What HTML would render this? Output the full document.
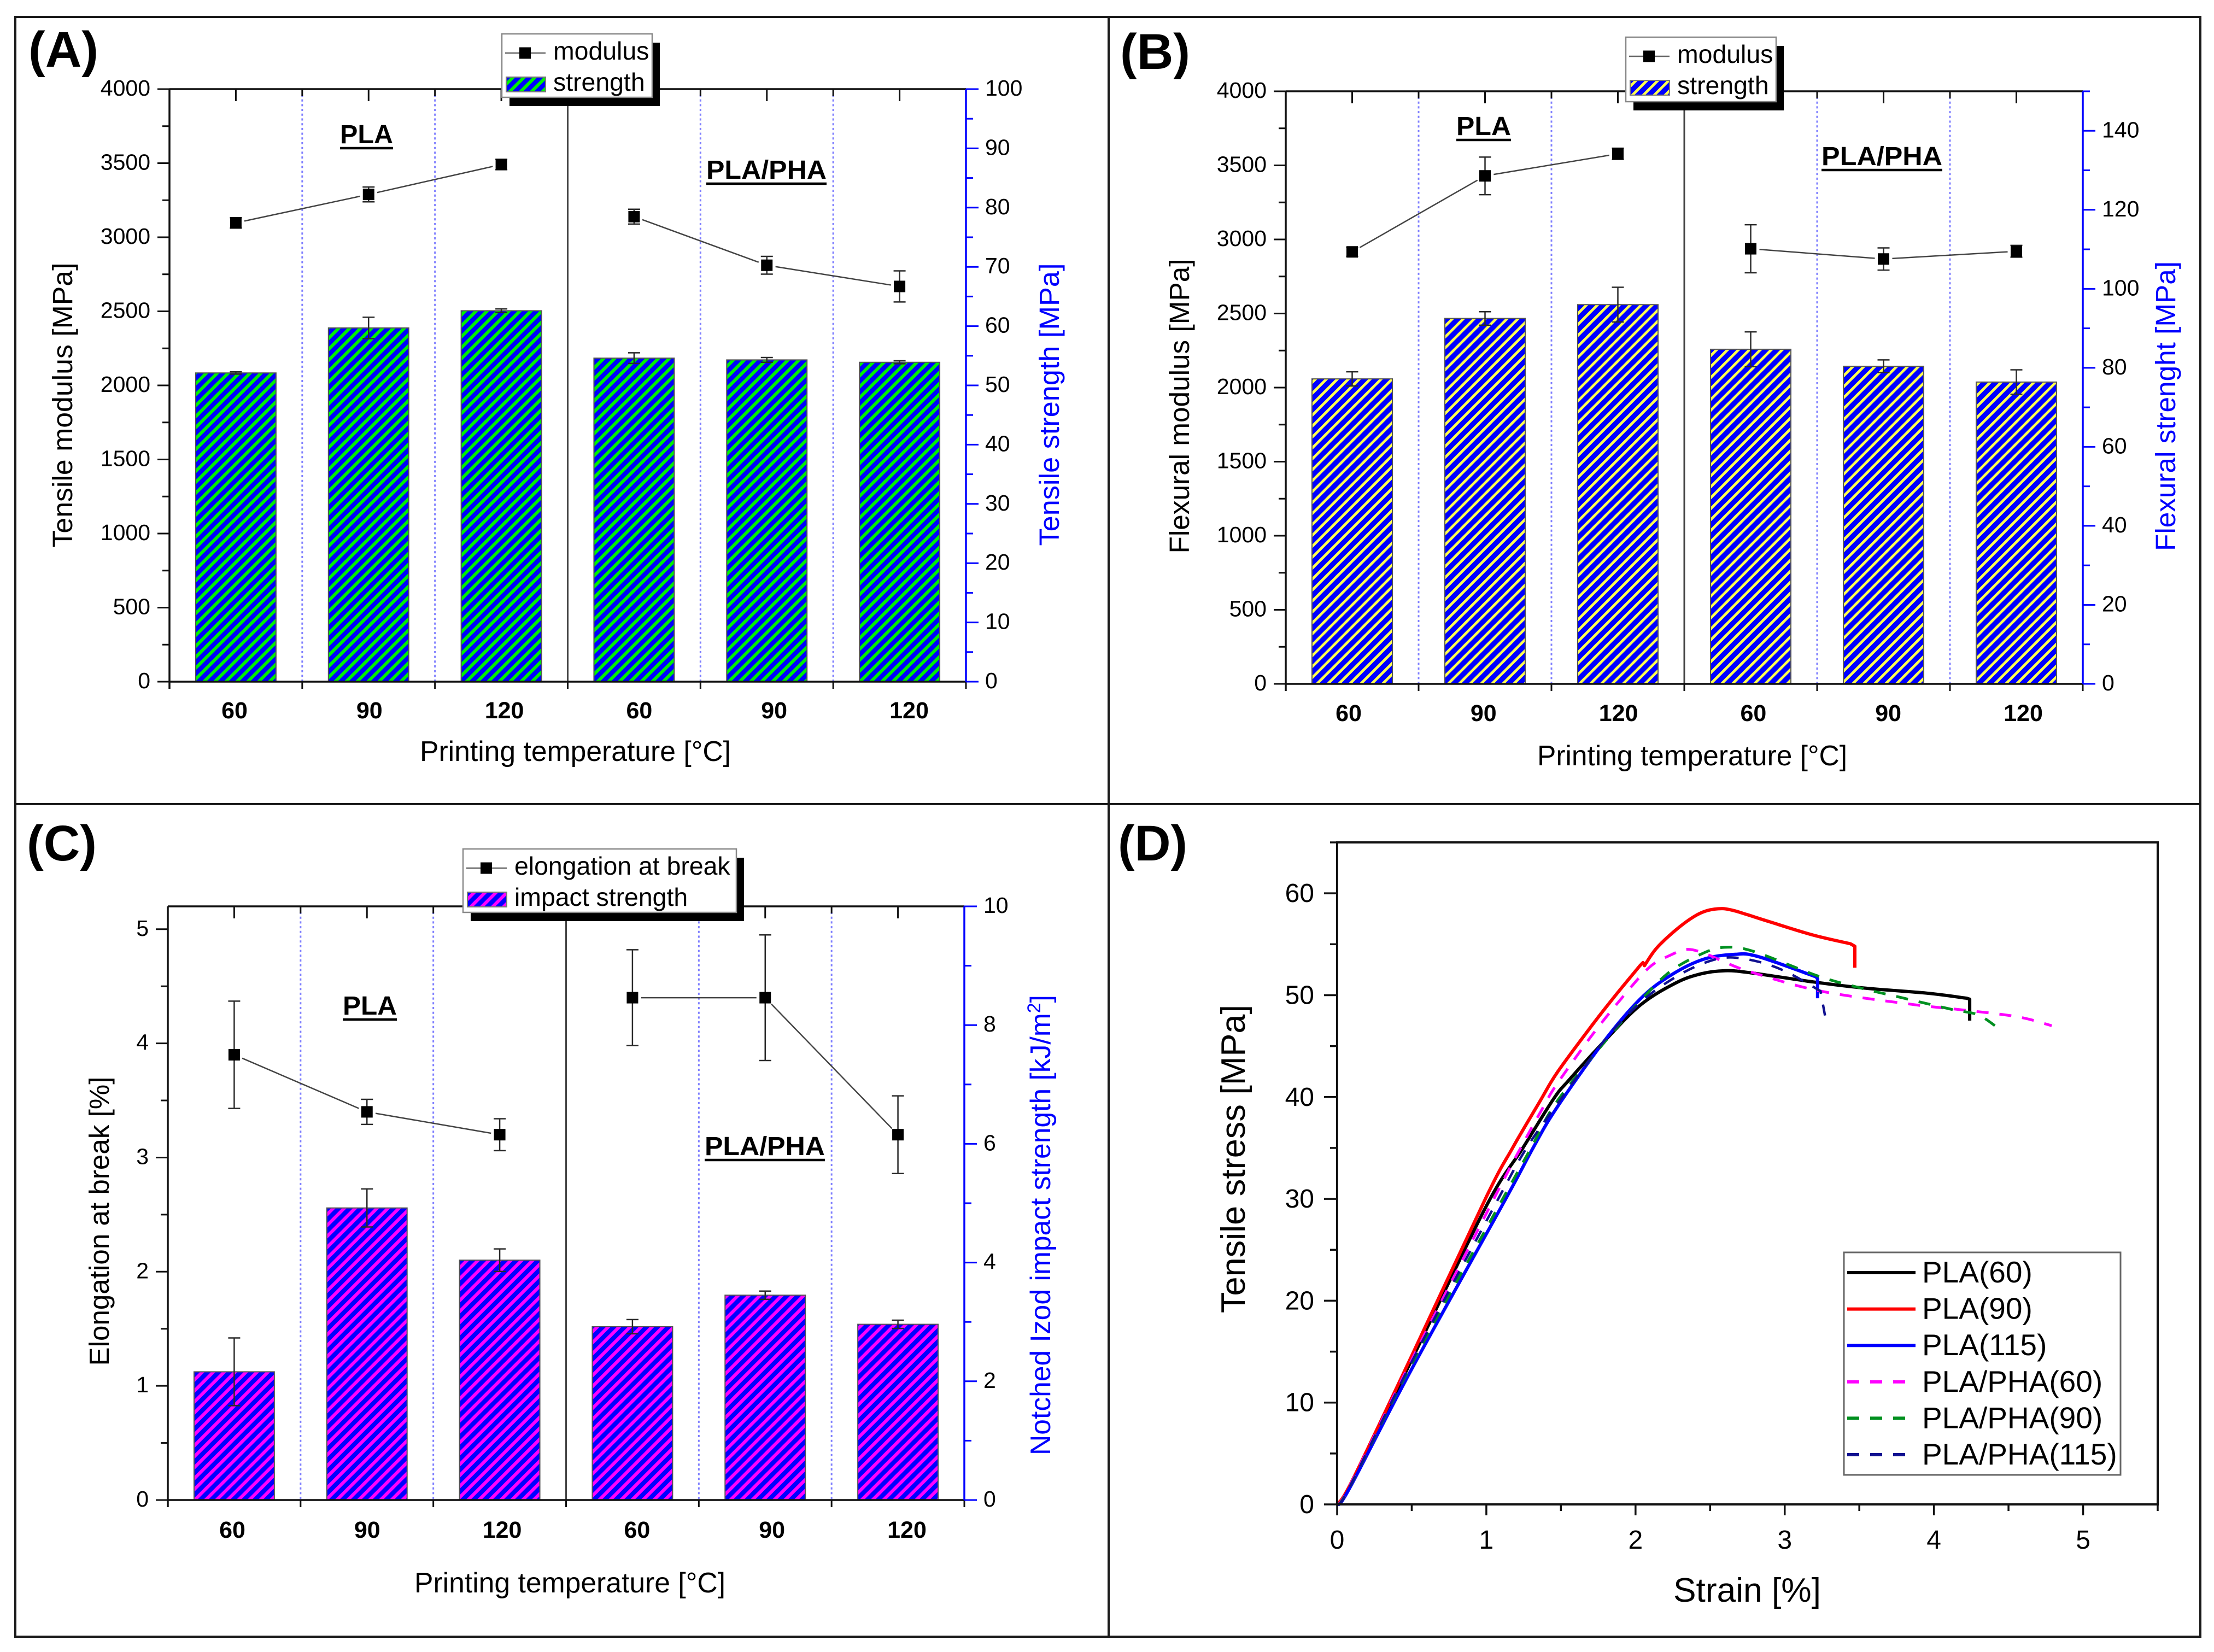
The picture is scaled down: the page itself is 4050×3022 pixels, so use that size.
<!DOCTYPE html>
<html lang="en">
<head>
<meta charset="utf-8">
<title>Mechanical properties of PLA and PLA/PHA</title>
<style>
html,body{margin:0;padding:0;background:#fff;}
svg{display:block;font-family:"Liberation Sans",sans-serif;}
</style>
</head>
<body>
<svg id="figure" xmlns="http://www.w3.org/2000/svg" width="4050" height="3022" viewBox="0 0 4050 3022">
  <defs>
    <pattern id="hatch-green" patternUnits="userSpaceOnUse" width="20" height="20">
      <rect width="20" height="20" fill="#0000ff"/>
      <path d="M-5,5 L5,-5 M0,20 L20,0 M15,25 L25,15" stroke="#00f000" stroke-width="5.9"/>
    </pattern>
    <pattern id="hatch-yellow" patternUnits="userSpaceOnUse" width="20" height="20">
      <rect width="20" height="20" fill="#0000ff"/>
      <path d="M-5,5 L5,-5 M0,20 L20,0 M15,25 L25,15" stroke="#ffff50" stroke-width="4.8"/>
    </pattern>
    <pattern id="hatch-magenta" patternUnits="userSpaceOnUse" width="20" height="20">
      <rect width="20" height="20" fill="#0000ff"/>
      <path d="M-5,5 L5,-5 M0,20 L20,0 M15,25 L25,15" stroke="#ff00ff" stroke-width="6"/>
    </pattern>
  </defs>
  <rect width="4050" height="3022" fill="#ffffff"/>
  <rect x="28" y="31" width="3997" height="2963" fill="none" stroke="#1a1a1a" stroke-width="4"/>
  <line x1="2028" y1="31" x2="2028" y2="2994" stroke="#1a1a1a" stroke-width="4"/>
  <line x1="28" y1="1471" x2="4025" y2="1471" stroke="#1a1a1a" stroke-width="4"/>
</svg>
<script>
// ---------- Panels A, B, C: shared categories ----------
var tempCategories = ['60', '90', '120', '60', '90', '120'];

// Panel A values
var tensileStrength = [52.1, 59.7, 62.6, 54.6, 54.3, 53.9];
var tensileStrengthErr = [0.2, 1.8, 0.3, 0.9, 0.4, 0.25];
var tensileModulus = [3097, 3289, 3491, 3139, 2811, 2668];
var tensileModulusErr = [35, 50, 35, 50, 60, 105];

// Panel B values
var flexuralStrength = [77.2, 92.5, 96.0, 84.7, 80.4, 76.4];
var flexuralStrengthErr = [1.8, 1.7, 4.4, 4.4, 1.6, 3.1];
var flexuralModulus = [2916, 3429, 3578, 2937, 2868, 2920];
var flexuralModulusErr = [30, 127, 38, 162, 75, 40];

// Panel C values
var impactStrength = [2.16, 4.92, 4.04, 2.92, 3.45, 2.96];
var impactStrengthErr = [0.57, 0.32, 0.19, 0.12, 0.07, 0.07];
var elongation = [3.9, 3.4, 3.2, 4.4, 4.4, 3.2];
var elongationErr = [0.47, 0.11, 0.14, 0.42, 0.55, 0.34];

// Tick labels
var modulusTicks = [0, 500, 1000, 1500, 2000, 2500, 3000, 3500, 4000];
var tensileStrengthTicks = [0, 10, 20, 30, 40, 50, 60, 70, 80, 90, 100];
var flexuralStrengthTicks = [0, 20, 40, 60, 80, 100, 120, 140];
var elongationTicks = [0, 1, 2, 3, 4, 5];
var impactTicks = [0, 2, 4, 6, 8, 10];

// ---------- Panel D: stress-strain curves ----------
var strainTicks = [0, 1, 2, 3, 4, 5];
var stressTicks = [0, 10, 20, 30, 40, 50, 60];

var pla60Strain = [0, 0.08, 0.5, 1.0, 1.245, 1.45, 1.55, 1.78, 2.03, 2.27, 2.44, 2.6, 2.77, 3.19, 3.53, 3.95, 4.22, 4.24, 4.24];
var pla60Stress = [0, 1.7, 14.2, 29.3, 35, 39.8, 41.6, 45.3, 49.0, 51.2, 52.1, 52.4, 52.2, 51.3, 50.7, 50.2, 49.7, 49.6, 47.5];

var pla90Strain = [0, 0.1, 0.5, 1.0, 1.176, 1.36, 1.47, 1.67, 1.85, 2.03, 2.05, 2.06, 2.14, 2.27, 2.39, 2.48, 2.58, 2.66, 2.75, 2.9, 3.19, 3.44, 3.47, 3.47];
var pla90Stress = [0, 2.3, 14.6, 30.2, 35, 39.6, 42.3, 46.3, 49.7, 52.9, 53.2, 52.9, 54.6, 56.4, 57.7, 58.3, 58.5, 58.3, 57.9, 57.2, 55.9, 55.05, 54.8, 52.7];

var pla115Strain = [0, 0.08, 0.5, 1.13, 1.315, 1.47, 1.78, 2.03, 2.23, 2.45, 2.66, 2.82, 3.21, 3.22, 3.22];
var pla115Stress = [0, 1.5, 13.3, 30, 35.05, 38.9, 45.3, 49.6, 51.9, 53.5, 54.0, 53.8, 51.8, 51.6, 49.7];

var blend60Strain = [0, 0.08, 0.5, 1.05, 1.23, 1.385, 1.47, 1.7, 1.89, 2.09, 2.23, 2.35, 2.48, 2.62, 2.79, 3.24, 3.85, 4.16, 4.46, 4.62, 4.79];
var blend60Stress = [0, 1.7, 14.2, 30, 35, 39.1, 41.2, 45.9, 49.4, 52.7, 53.9, 54.5, 54.0, 53.1, 52.2, 50.4, 49.1, 48.6, 48.1, 47.7, 47];

var blend90Strain = [0, 0.08, 0.5, 1.11, 1.30, 1.47, 1.81, 2.03, 2.23, 2.45, 2.6, 2.79, 3.22, 3.51, 3.8, 4.12, 4.29, 4.41];
var blend90Stress = [0, 1.6, 13.8, 30, 35, 39.5, 45.7, 49.4, 52.3, 54.1, 54.7, 54.3, 51.9, 50.7, 49.7, 48.6, 48.1, 47];

var blend115Strain = [0, 0.08, 0.5, 1.08, 1.27, 1.47, 1.8, 2.05, 2.26, 2.45, 2.62, 2.82, 3.01, 3.24, 3.27];
var blend115Stress = [0, 1.6, 14, 30, 35, 39.2, 45.7, 49.5, 51.7, 53.1, 53.7, 53.3, 52.3, 50.4, 48];

// ---------- Drawing ----------
var NS = 'http://www.w3.org/2000/svg';
var root = document.getElementById('figure');

function mk(parent, tag, attrs, text) {
  var el = document.createElementNS(NS, tag);
  for (var k in attrs) el.setAttribute(k, attrs[k]);
  if (text !== undefined) el.textContent = text;
  parent.appendChild(el);
  return el;
}

function drawHeadings(g, p) {
  var a = mk(g, 'text', {x: p.letter[0], y: p.letter[1], 'font-size': 92, 'font-weight': 'bold', textLength: 128, lengthAdjust: 'spacingAndGlyphs', fill: '#000'}, p.letterText);
  
  
}

function drawBarPanel(p) {
  var g = mk(root, 'g', {});
  
  
  var band = (p.R - p.L) / 6;
  var yL = function (v) { return p.B - v / p.leftMax * (p.B - p.T); };
  var yR = function (v) { return p.B - v / p.rightMax * (p.B - p.T); };
  var xC = function (i) { return p.L + (i + 0.5) * band; };

  drawHeadings(g, p);

  // separators
  for (var e = 1; e < 6; e++) {
    if (e === 3) continue;
    var dot = mk(g, 'line', {x1: p.L + e * band, x2: p.L + e * band, y1: p.T + 10, y2: p.B, stroke: '#7f7fff', 'stroke-width': 3, 'stroke-dasharray': '4 4.7'});
    
    
  }
  var mid = mk(g, 'line', {x1: p.L + 3 * band, x2: p.L + 3 * band, y1: p.T, y2: p.B, stroke: '#444', 'stroke-width': 3});
  
  

  // bars and their error bars
  p.bars.forEach(function (v, i) {
    var w = band * 0.605;
    var r = mk(g, 'rect', {x: xC(i) - w / 2, y: yR(v), width: w, height: p.B - yR(v), fill: 'url(#' + p.hatch + ')', stroke: '#555', 'stroke-width': 2});
    
    
  });
  p.bars.forEach(function (v, i) {
    drawError(g, xC(i), yR(v + p.barsErr[i]), yR(v - p.barsErr[i]), 'bar-error-' + i);
  });

  // connected points
  [[0, 1], [1, 2], [3, 4], [4, 5]].forEach(function (s) {
    var x1 = xC(s[0]), x2 = xC(s[1]), y1 = yL(p.line[s[0]]), y2 = yL(p.line[s[1]]);
    var d = Math.sqrt((x2 - x1) * (x2 - x1) + (y2 - y1) * (y2 - y1));
    var ux = (x2 - x1) / d, uy = (y2 - y1) / d, gap = 16;
    var l = mk(g, 'line', {x1: x1 + ux * gap, y1: y1 + uy * gap, x2: x2 - ux * gap, y2: y2 - uy * gap, stroke: '#444', 'stroke-width': 2.5});
    
    
  });
  p.line.forEach(function (v, i) {
    drawError(g, xC(i), yL(v + p.lineErr[i]), yL(v - p.lineErr[i]), 'point-error-' + i);
    var m = mk(g, 'rect', {x: xC(i) - 10.5, y: yL(v) - 10.5, width: 21, height: 21, fill: '#000'});
    
    
  });

  // frame: top and bottom axis
  var top = mk(g, 'line', {x1: p.L, x2: p.R, y1: p.T, y2: p.T, stroke: '#111', 'stroke-width': 3.5});
  
  
  var bot = mk(g, 'line', {x1: p.L, x2: p.R, y1: p.B, y2: p.B, stroke: '#111', 'stroke-width': 3.5});
  
  
  for (var t = 0; t <= 6; t++) {
    var bt = mk(g, 'line', {x1: p.L + t * band, x2: p.L + t * band, y1: p.B, y2: p.B + 13, stroke: '#111', 'stroke-width': 3});
    
    
    var tt = mk(g, 'line', {x1: p.L + t * band, x2: p.L + t * band, y1: p.T, y2: p.T + 13, stroke: '#111', 'stroke-width': 3});
    
    
    if (t < 6) {
      var tm = mk(g, 'line', {x1: xC(t), x2: xC(t), y1: p.T, y2: p.T + 22, stroke: '#111', 'stroke-width': 3});
      
      
    }
  }
  tempCategories.forEach(function (c, i) {
    var lb = mk(g, 'text', {x: p.labelX0 + i * 246.8, y: p.labelY, 'text-anchor': 'middle', 'font-size': 43, 'font-weight': 'bold', fill: '#000'}, c);
    
    
  });
  var xt = mk(g, 'text', {x: p.xTitle[0], y: p.xTitle[1], textLength: p.xTitle[2], lengthAdjust: 'spacingAndGlyphs', 'font-size': 52, fill: '#000'}, 'Printing temperature [°C]');
  
  

  // left axis
  var la = mk(g, 'line', {x1: p.L, x2: p.L, y1: p.T, y2: p.B + 13, stroke: '#111', 'stroke-width': 3.5});
  
  
  p.leftTicks.forEach(function (v, i) {
    var y = yL(v);
    var tk = mk(g, 'line', {x1: p.L - 22, x2: p.L, y1: y, y2: y, stroke: '#111', 'stroke-width': 3});
    
    
    var lb = mk(g, 'text', {x: p.L - 35, y: y + 12, 'text-anchor': 'end', 'font-size': 41, fill: '#000'}, String(v));
    
    
    if (i < p.leftTicks.length - 1) {
      var ym = yL((v + p.leftTicks[i + 1]) / 2);
      var mn = mk(g, 'line', {x1: p.L - 13, x2: p.L, y1: ym, y2: ym, stroke: '#111', 'stroke-width': 3});
      
      
    }
  });
  var lt = mk(g, 'text', {transform: 'translate(' + p.leftTitle[0] + ',' + p.leftTitle[1] + ') rotate(-90)', 'text-anchor': 'middle', textLength: p.leftTitle[2], lengthAdjust: 'spacingAndGlyphs', 'font-size': 51, fill: '#000'}, p.leftTitleText);
  
  

  // right axis
  var ra = mk(g, 'line', {x1: p.R, x2: p.R, y1: p.T, y2: p.B, stroke: '#0000ff', 'stroke-width': 3.5});
  
  
  p.rightTicks.forEach(function (v, i) {
    var y = yR(v);
    var tk = mk(g, 'line', {x1: p.R, x2: p.R + 23, y1: y, y2: y, stroke: '#0000ff', 'stroke-width': 3});
    
    
    var lb = mk(g, 'text', {x: p.R + 35, y: y + 12, 'font-size': 41, fill: '#000'}, String(v));
    
    
    var step = i < p.rightTicks.length - 1 ? p.rightTicks[i + 1] - v : p.rightTicks[1] - p.rightTicks[0];
    if (v + step / 2 <= p.rightMax) {
      var ym = yR(v + step / 2);
      var mn = mk(g, 'line', {x1: p.R, x2: p.R + 13, y1: ym, y2: ym, stroke: '#0000ff', 'stroke-width': 3});
      
      
    }
  });
  var rt = mk(g, 'text', {transform: 'translate(' + p.rightTitle[0] + ',' + p.rightTitle[1] + ') rotate(-90)', 'text-anchor': 'middle', 'font-size': p.rightTitleSup ? 51.6 : 51, fill: '#0000ff'});
  
  
  if (p.rightTitleSup) {
    mk(rt, 'tspan', {}, p.rightTitleText);
    mk(rt, 'tspan', {dy: -18, 'font-size': 34}, p.rightTitleSup);
    mk(rt, 'tspan', {dy: 18}, ']');
  } else {
    rt.textContent = p.rightTitleText;
    rt.setAttribute('textLength', p.rightTitle[2]);
    rt.setAttribute('lengthAdjust', 'spacingAndGlyphs');
  }

  // material labels
  p.materials.forEach(function (mt) {
    var tx = mk(g, 'text', {x: mt[1], y: mt[3], textLength: mt[2] - mt[1], lengthAdjust: 'spacingAndGlyphs', 'font-size': 48, 'font-weight': 'bold', fill: '#000'}, mt[0]);
    
    
    var ul = mk(g, 'line', {x1: mt[1], x2: mt[2], y1: mt[3] + 9, y2: mt[3] + 9, stroke: '#000', 'stroke-width': 4.5});
    
    
  });

  // legend
  var lg = mk(g, 'g', {});
  
  
  var bx = p.legend[0], by = p.legend[1], bw = p.legend[2], bh = p.legend[3];
  var shadow = mk(lg, 'rect', {x: bx + 14, y: by + 16, width: bw, height: bh, fill: '#000'});
  
  
  var box = mk(lg, 'rect', {x: bx, y: by, width: bw, height: bh, fill: '#fff', stroke: '#888', 'stroke-width': 2.5});
  
  
  var ll = mk(lg, 'line', {x1: bx + 6, x2: bx + 80, y1: by + 35, y2: by + 35, stroke: '#666', 'stroke-width': 2.5});
  
  
  var lm = mk(lg, 'rect', {x: bx + 32, y: by + 24.5, width: 21, height: 21, fill: '#000'});
  
  
  var ls = mk(lg, 'rect', {x: bx + 8, y: by + 79, width: 72, height: 27, fill: 'url(#' + p.hatch + ')', stroke: '#777', 'stroke-width': 2});
  
  
  var t1 = mk(lg, 'text', {x: bx + 94, y: by + 47, 'font-size': 46.4, fill: '#000'}, p.legendText[0]);
  
  
  var t2 = mk(lg, 'text', {x: bx + 94, y: by + 104, 'font-size': 46.4, fill: '#000'}, p.legendText[1]);
  
  
}

function drawError(g, x, yTop, yBot, name) {
  var eb = mk(g, 'g', {stroke: '#2a2a2a', 'stroke-width': 2.5});
  
  
  mk(eb, 'line', {x1: x, x2: x, y1: yTop, y2: yBot});
  mk(eb, 'line', {x1: x - 11, x2: x + 11, y1: yTop, y2: yTop});
  mk(eb, 'line', {x1: x - 11, x2: x + 11, y1: yBot, y2: yBot});
}

var panels = [
  {key: 'a', letterText: '(A)', letter: [52, 122], L: 310, R: 1767, T: 163, B: 1247, leftMax: 4000, rightMax: 100,
   hatch: 'hatch-green', bars: tensileStrength, barsErr: tensileStrengthErr, line: tensileModulus, lineErr: tensileModulusErr,
   leftTicks: modulusTicks, rightTicks: tensileStrengthTicks, labelX0: 429, labelY: 1314, xTitle: [768, 1392, 569],
   leftTitleText: 'Tensile modulus [MPa]', leftTitle: [132, 741, 521], rightTitleText: 'Tensile strength [MPa]', rightTitle: [1937, 740, 517],
   materials: [['PLA', 622, 719, 262], ['PLA/PHA', 1292, 1512, 327]], legend: [918, 62, 275, 116], legendText: ['modulus', 'strength']},
  {key: 'b', letterText: '(B)', letter: [2049, 126], L: 2352, R: 3810, T: 167, B: 1251, leftMax: 4000, rightMax: 150,
   hatch: 'hatch-yellow', bars: flexuralStrength, barsErr: flexuralStrengthErr, line: flexuralModulus, lineErr: flexuralModulusErr,
   leftTicks: modulusTicks, rightTicks: flexuralStrengthTicks, labelX0: 2467, labelY: 1319, xTitle: [2812, 1400, 567],
   leftTitleText: 'Flexural modulus [MPa]', leftTitle: [2175, 743, 539], rightTitleText: 'Flexural strenght [MPa]', rightTitle: [3979, 743, 530],
   materials: [['PLA', 2664, 2764, 247], ['PLA/PHA', 3332, 3553, 302]], legend: [2974, 68, 275, 118], legendText: ['modulus', 'strength']},
  {key: 'c', letterText: '(C)', letter: [49, 1574], L: 307, R: 1764, T: 1658, B: 2744, leftMax: 5.2, rightMax: 10,
   hatch: 'hatch-magenta', bars: impactStrength, barsErr: impactStrengthErr, line: elongation, lineErr: elongationErr,
   leftTicks: elongationTicks, rightTicks: impactTicks, labelX0: 425, labelY: 2813, xTitle: [758, 2913, 569],
   leftTitleText: 'Elongation at break [%]', leftTitle: [199, 2234, 529], rightTitleText: 'Notched Izod impact strength [kJ/m', rightTitleSup: '2', rightTitle: [1921, 2241, 834],
   materials: [['PLA', 627, 726, 1856], ['PLA/PHA', 1289, 1509, 2113]], legend: [847, 1553, 500, 116], legendText: ['elongation at break', 'impact strength']}
];
panels.forEach(drawBarPanel);

// Panel D
var curves = [
  {name: 'PLA(60)', strain: pla60Strain, stress: pla60Stress, color: '#000000', width: 6, dash: ''},
  {name: 'PLA(90)', strain: pla90Strain, stress: pla90Stress, color: '#ff0000', width: 6, dash: ''},
  {name: 'PLA(115)', strain: pla115Strain, stress: pla115Stress, color: '#0000ff', width: 6, dash: ''},
  {name: 'PLA/PHA(60)', strain: blend60Strain, stress: blend60Stress, color: '#ff00ff', width: 5, dash: '22 20'},
  {name: 'PLA/PHA(90)', strain: blend90Strain, stress: blend90Stress, color: '#009020', width: 5, dash: '22 20'},
  {name: 'PLA/PHA(115)', strain: blend115Strain, stress: blend115Stress, color: '#101090', width: 4.5, dash: '22 20'}
];

// Smooth through the read points, keeping near-vertical drops straight.
function curvePath(xs, ys) {
  var d = 'M' + xs[0].toFixed(1) + ',' + ys[0].toFixed(1);
  var steep = function (a) { return Math.abs(xs[a + 1] - xs[a]) < 9; };
  for (var i = 0; i < xs.length - 1; i++) {
    if (steep(i)) {
      d += ' L' + xs[i + 1].toFixed(1) + ',' + ys[i + 1].toFixed(1);
      continue;
    }
    var a = (i > 0 && !steep(i - 1)) ? i - 1 : i;
    var b = (i + 2 < xs.length && !steep(i + 1)) ? i + 2 : i + 1;
    var c1x = xs[i] + (xs[i + 1] - xs[a]) / 6, c1y = ys[i] + (ys[i + 1] - ys[a]) / 6;
    var c2x = xs[i + 1] - (xs[b] - xs[i]) / 6, c2y = ys[i + 1] - (ys[b] - ys[i]) / 6;
    d += ' C' + c1x.toFixed(1) + ',' + c1y.toFixed(1) + ' ' + c2x.toFixed(1) + ',' + c2y.toFixed(1) + ' ' + xs[i + 1].toFixed(1) + ',' + ys[i + 1].toFixed(1);
  }
  return d;
}

(function drawStressStrain() {
  var L = 2446, R = 3947, T = 1541, B = 2752, xMax = 5.5, yMax = 65;
  var g = mk(root, 'g', {});
  
  
  var x = function (v) { return L + v / xMax * (R - L); };
  var y = function (v) { return B - v / yMax * (B - T); };

  var letter = mk(g, 'text', {x: 2045, y: 1574, 'font-size': 92, 'font-weight': 'bold', textLength: 127, lengthAdjust: 'spacingAndGlyphs', fill: '#000'}, '(D)');
  
  

  curves.forEach(function (c) {
    var pd = curvePath(c.strain.map(x), c.stress.map(y));
    var pl = mk(g, 'path', {d: pd, fill: 'none', stroke: c.color, 'stroke-width': c.width, 'stroke-dasharray': c.dash, 'stroke-linejoin': 'round'});
    
    
  });

  var fr = mk(g, 'rect', {x: L, y: T, width: R - L, height: B - T, fill: 'none', stroke: '#111', 'stroke-width': 4});
  
  

  strainTicks.forEach(function (v) {
    var tk = mk(g, 'line', {x1: x(v), x2: x(v), y1: B, y2: B + 20, stroke: '#111', 'stroke-width': 3.5});
    
    
    var mn = mk(g, 'line', {x1: x(v + 0.5), x2: x(v + 0.5), y1: B, y2: B + 12, stroke: '#111', 'stroke-width': 3.5});
    
    
    var lb = mk(g, 'text', {x: x(v), y: 2833, 'text-anchor': 'middle', 'font-size': 48, fill: '#000'}, String(v));
    
    
  });
  stressTicks.forEach(function (v) {
    var tk = mk(g, 'line', {x1: L - 24, x2: L, y1: y(v), y2: y(v), stroke: '#111', 'stroke-width': 3.5});
    
    
    var mn = mk(g, 'line', {x1: L - 13, x2: L, y1: y(v + 5), y2: y(v + 5), stroke: '#111', 'stroke-width': 3.5});
    
    
    var lb = mk(g, 'text', {x: 2404, y: y(v) + 16, 'text-anchor': 'end', 'font-size': 48, fill: '#000'}, String(v));
    
    
  });

  var xt = mk(g, 'text', {x: 3061, y: 2930, 'font-size': 62, textLength: 270, lengthAdjust: 'spacingAndGlyphs', fill: '#000'}, 'Strain [%]');
  
  
  var yt = mk(g, 'text', {transform: 'translate(2277,2120) rotate(-90)', 'text-anchor': 'middle', 'font-size': 62, textLength: 564, lengthAdjust: 'spacingAndGlyphs', fill: '#000'}, 'Tensile stress [MPa]');
  
  

  var lg = mk(g, 'g', {});
  
  
  var box = mk(lg, 'rect', {x: 3373, y: 2291, width: 506, height: 407, fill: '#fff', stroke: '#666', 'stroke-width': 3});
  
  
  curves.forEach(function (c, i) {
    var ry = 2328 + i * 66.6;
    var key = mk(lg, 'line', {x1: 3379, x2: c.dash ? 3486 : 3504, y1: ry, y2: ry, stroke: c.color, 'stroke-width': 6, 'stroke-dasharray': c.dash ? '22 20' : ''});
    
    
    var tx = mk(lg, 'text', {x: 3516, y: ry + 18, 'font-size': 55, fill: '#000'}, c.name);
    
    
  });
})();
</script>
</body>
</html>
